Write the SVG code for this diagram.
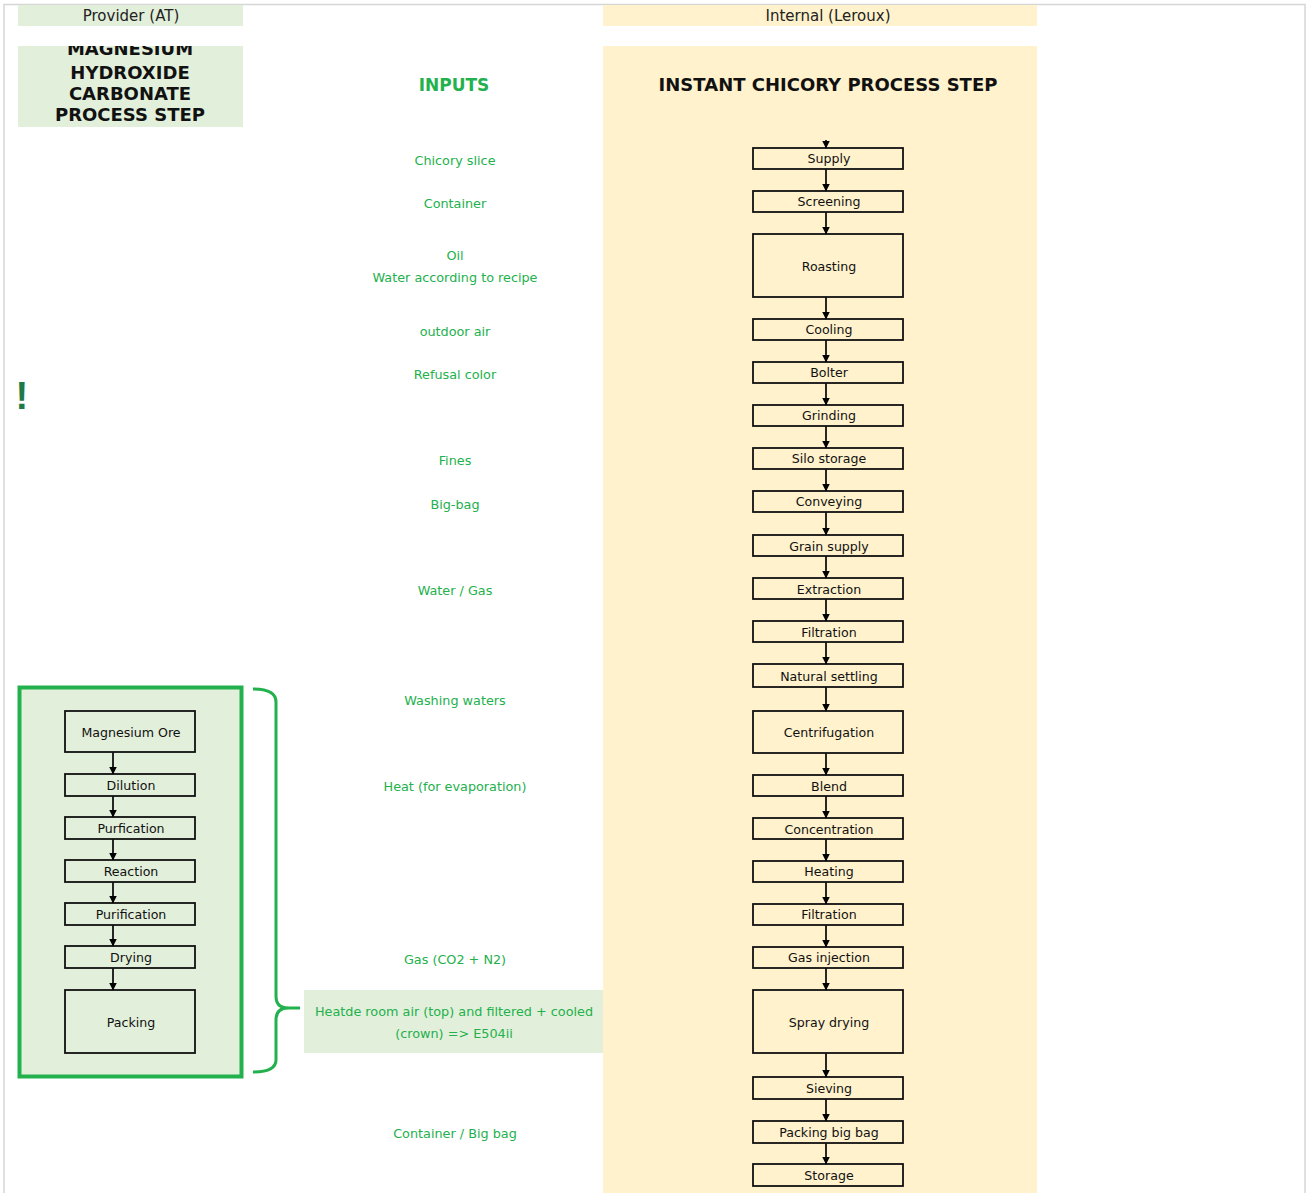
<svg xmlns="http://www.w3.org/2000/svg" width="1306" height="1193" viewBox="0 0 1306 1193">
<defs>
<marker id="ah" viewBox="0 0 8 8" refX="7.5" refY="4" markerWidth="8" markerHeight="8" markerUnits="userSpaceOnUse" orient="auto">
<path d="M0,0 L8,4 L0,8 Z" fill="#000"/>
</marker>
<clipPath id="titleclip"><rect x="18" y="46" width="225" height="81"/></clipPath>
</defs>
<style>
.box{fill:none;stroke:#111;stroke-width:1.8}
.lbl{font-family:"DejaVu Sans",Verdana,sans-serif;font-size:12.6px;fill:#111;text-anchor:middle}
.inp{font-family:"DejaVu Sans",Verdana,sans-serif;font-size:12.8px;fill:#22b14c;text-anchor:middle}
.hdr{font-family:"DejaVu Sans",Verdana,sans-serif;font-size:15px;fill:#222;text-anchor:middle}
.ttl{font-family:"DejaVu Sans",Verdana,sans-serif;font-size:18px;font-weight:bold;fill:#111;text-anchor:middle}
.con{stroke:#111;stroke-width:1.8;fill:none;marker-end:url(#ah)}
</style>
<rect width="1306" height="1193" fill="#fff"/>
<rect x="4" y="4.5" width="1301" height="1190" fill="none" stroke="#d6d6d6" stroke-width="1.5"/>
<g id="bg">
<rect x="18" y="5" width="225" height="21" fill="#e2efda"/>
<rect x="603" y="5" width="434" height="21" fill="#fff2cc"/>
<rect x="18" y="46" width="225" height="81" fill="#e2efda"/>
<rect x="603" y="46" width="434" height="1147" fill="#fff2cc"/>
</g>
<g id="headers">
<text class="hdr" x="131" y="21">Provider (AT)</text>
<text class="hdr" x="828" y="21">Internal (Leroux)</text>
<g clip-path="url(#titleclip)">
<text class="ttl" x="130" y="54.5">MAGNESIUM</text>
<text class="ttl" x="130" y="79">HYDROXIDE</text>
<text class="ttl" x="130" y="100">CARBONATE</text>
<text class="ttl" x="130" y="121">PROCESS STEP</text>
</g>
<text class="ttl" x="828" y="91">INSTANT CHICORY PROCESS STEP</text>
<text x="454" y="91" font-family="DejaVu Sans,Verdana,sans-serif" font-size="17" font-weight="bold" fill="#22b14c" text-anchor="middle">INPUTS</text>
<text x="15.5" y="409" font-family="Liberation Sans,Arial,sans-serif" font-size="38" font-weight="bold" fill="#1e7a46">!</text>
</g>
<g id="inputs">
<text class="inp" x="455" y="165">Chicory slice</text>
<text class="inp" x="455" y="208">Container</text>
<text class="inp" x="455" y="260">Oil</text>
<text class="inp" x="455" y="282">Water according to recipe</text>
<text class="inp" x="455" y="336">outdoor air</text>
<text class="inp" x="455" y="379">Refusal color</text>
<text class="inp" x="455" y="465">Fines</text>
<text class="inp" x="455" y="509">Big-bag</text>
<text class="inp" x="455" y="595">Water / Gas</text>
<text class="inp" x="455" y="705">Washing waters</text>
<text class="inp" x="455" y="791">Heat (for evaporation)</text>
<text class="inp" x="455" y="964">Gas (CO2 + N2)</text>
<text class="inp" x="455" y="1138">Container / Big bag</text>
</g>
<g id="heated-air">
<rect x="304" y="990" width="299" height="63" fill="#e2efda"/>
<text class="inp" x="454" y="1016">Heatde room air (top) and filtered + cooled</text>
<text class="inp" x="454" y="1038">(crown) =&gt; E504ii</text>
</g>
<g id="provider-frame">
<rect x="19.5" y="687.5" width="222" height="389" fill="#e2efda" stroke="#22b14c" stroke-width="4"/>
</g>
<g id="brace">
<path d="M253,689 Q276,689 276,702 V996 Q276,1008 288,1008 H300 M288,1008 Q276,1008 276,1020 V1060 Q276,1072 253,1072" fill="none" stroke="#22b14c" stroke-width="3"/>
</g>
<g id="n-mg-ore"><rect class="box" x="65" y="711" width="130" height="41"/><text class="lbl" x="131" y="737">Magnesium Ore</text></g>
<g id="n-dilution"><rect class="box" x="65" y="774" width="130" height="22"/><text class="lbl" x="131" y="790">Dilution</text></g>
<g id="n-purfication"><rect class="box" x="65" y="817" width="130" height="22"/><text class="lbl" x="131" y="833">Purfication</text></g>
<g id="n-reaction"><rect class="box" x="65" y="860" width="130" height="22"/><text class="lbl" x="131" y="876">Reaction</text></g>
<g id="n-purification"><rect class="box" x="65" y="903" width="130" height="22"/><text class="lbl" x="131" y="919">Purification</text></g>
<g id="n-drying"><rect class="box" x="65" y="946" width="130" height="22"/><text class="lbl" x="131" y="962">Drying</text></g>
<g id="n-packing"><rect class="box" x="65" y="990" width="130" height="63"/><text class="lbl" x="131" y="1027">Packing</text></g>
<g id="n-supply"><rect class="box" x="753" y="148" width="150" height="21"/><text class="lbl" x="829" y="163">Supply</text></g>
<g id="n-screening"><rect class="box" x="753" y="191" width="150" height="21"/><text class="lbl" x="829" y="206">Screening</text></g>
<g id="n-roasting"><rect class="box" x="753" y="234" width="150" height="63"/><text class="lbl" x="829" y="271">Roasting</text></g>
<g id="n-cooling"><rect class="box" x="753" y="319" width="150" height="21"/><text class="lbl" x="829" y="334">Cooling</text></g>
<g id="n-bolter"><rect class="box" x="753" y="362" width="150" height="21"/><text class="lbl" x="829" y="377">Bolter</text></g>
<g id="n-grinding"><rect class="box" x="753" y="405" width="150" height="21"/><text class="lbl" x="829" y="420">Grinding</text></g>
<g id="n-silo"><rect class="box" x="753" y="448" width="150" height="21"/><text class="lbl" x="829" y="463">Silo storage</text></g>
<g id="n-conveying"><rect class="box" x="753" y="491" width="150" height="21"/><text class="lbl" x="829" y="506">Conveying</text></g>
<g id="n-grain"><rect class="box" x="753" y="535" width="150" height="21"/><text class="lbl" x="829" y="551">Grain supply</text></g>
<g id="n-extraction"><rect class="box" x="753" y="578" width="150" height="21"/><text class="lbl" x="829" y="594">Extraction</text></g>
<g id="n-filtration1"><rect class="box" x="753" y="621" width="150" height="21"/><text class="lbl" x="829" y="637">Filtration</text></g>
<g id="n-settling"><rect class="box" x="753" y="664" width="150" height="23"/><text class="lbl" x="829" y="681">Natural settling</text></g>
<g id="n-centrifugation"><rect class="box" x="753" y="711" width="150" height="42"/><text class="lbl" x="829" y="737">Centrifugation</text></g>
<g id="n-blend"><rect class="box" x="753" y="775" width="150" height="21"/><text class="lbl" x="829" y="791">Blend</text></g>
<g id="n-concentration"><rect class="box" x="753" y="818" width="150" height="21"/><text class="lbl" x="829" y="834">Concentration</text></g>
<g id="n-heating"><rect class="box" x="753" y="861" width="150" height="21"/><text class="lbl" x="829" y="876">Heating</text></g>
<g id="n-filtration2"><rect class="box" x="753" y="904" width="150" height="21"/><text class="lbl" x="829" y="919">Filtration</text></g>
<g id="n-gas"><rect class="box" x="753" y="947" width="150" height="21"/><text class="lbl" x="829" y="962">Gas injection</text></g>
<g id="n-spray"><rect class="box" x="753" y="990" width="150" height="63"/><text class="lbl" x="829" y="1027">Spray drying</text></g>
<g id="n-sieving"><rect class="box" x="753" y="1077" width="150" height="22"/><text class="lbl" x="829" y="1093">Sieving</text></g>
<g id="n-packbag"><rect class="box" x="753" y="1121" width="150" height="22"/><text class="lbl" x="829" y="1137">Packing big bag</text></g>
<g id="n-storage"><rect class="box" x="753" y="1164" width="150" height="22"/><text class="lbl" x="829" y="1180">Storage</text></g>
<g id="connectors">
<path class="con" d="M113,752 V774"/>
<path class="con" d="M113,796 V817"/>
<path class="con" d="M113,839 V860"/>
<path class="con" d="M113,882 V903"/>
<path class="con" d="M113,925 V946"/>
<path class="con" d="M113,968 V990"/>
<path class="con" d="M826,140 V148"/>
<path class="con" d="M826,169 V191"/>
<path class="con" d="M826,212 V234"/>
<path class="con" d="M826,297 V319"/>
<path class="con" d="M826,340 V362"/>
<path class="con" d="M826,383 V405"/>
<path class="con" d="M826,426 V448"/>
<path class="con" d="M826,469 V491"/>
<path class="con" d="M826,512 V535"/>
<path class="con" d="M826,556 V578"/>
<path class="con" d="M826,599 V621"/>
<path class="con" d="M826,642 V664"/>
<path class="con" d="M826,687 V711"/>
<path class="con" d="M826,753 V775"/>
<path class="con" d="M826,796 V818"/>
<path class="con" d="M826,839 V861"/>
<path class="con" d="M826,882 V904"/>
<path class="con" d="M826,925 V947"/>
<path class="con" d="M826,968 V990"/>
<path class="con" d="M826,1053 V1077"/>
<path class="con" d="M826,1099 V1121"/>
<path class="con" d="M826,1143 V1164"/>
</g>
</svg>
